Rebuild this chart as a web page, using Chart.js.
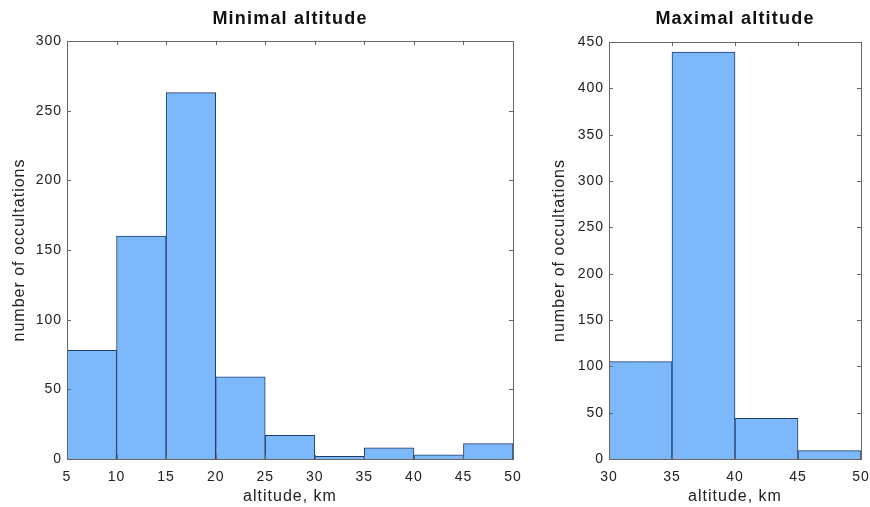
<!DOCTYPE html>
<html>
<head>
<meta charset="utf-8">
<script src="https://cdn.jsdelivr.net/npm/chart.js@4.4.0/dist/chart.umd.min.js"></script>
<style>
  body { margin: 0; background: #fff; }
  #left { position: absolute; left: 0; top: 0; width: 530px; height: 507px; }
  #right { position: absolute; left: 540px; top: 0; width: 330px; height: 507px; }
</style>
</head>
<body>
<div id="left"><canvas id="minChart"></canvas></div>
<div id="right"><canvas id="maxChart"></canvas></div>
<script>
// histogram bins (lower edge, km) and counts
var binWidth = 5;
var minBinStart = [5, 10, 15, 20, 25, 30, 35, 40, 45];
var minCounts = [78, 160, 263, 59, 17, 2, 8, 3, 11];
var maxBinStart = [30, 35, 40, 45];
var maxCounts = [105, 439, 44, 9];

var fillColor = '#7db9fa';
var edgeColor = '#1e3c6e';
var fontFamily = '"Liberation Sans", Arial, Helvetica, sans-serif';

// matlab style box, inward ticks and title
var boxPlugin = {
  id: 'box',
  beforeDraw: function(chart) {
    // the old scanned figure has loosely spaced text
    chart.ctx.letterSpacing = '1px';
  },
  afterDraw: function(chart, args, opts) {
    var ctx = chart.ctx, a = chart.chartArea;
    var xs = chart.scales.x, ys = chart.scales.y;
    ctx.save();
    ctx.strokeStyle = '#666';
    ctx.lineWidth = 1;
    ctx.strokeRect(Math.round(a.left) + 0.5, Math.round(a.top) + 0.5,
                   Math.round(a.right - a.left), Math.round(a.bottom - a.top));
    ctx.beginPath();
    xs.ticks.forEach(function(t) {
      var px = Math.round(xs.getPixelForValue(t.value)) + 0.5;
      ctx.moveTo(px, a.bottom); ctx.lineTo(px, a.bottom - 4);
      ctx.moveTo(px, a.top); ctx.lineTo(px, a.top + 4);
    });
    ys.ticks.forEach(function(t) {
      var py = Math.round(ys.getPixelForValue(t.value)) + 0.5;
      ctx.moveTo(a.left, py); ctx.lineTo(a.left + 4, py);
      ctx.moveTo(a.right, py); ctx.lineTo(a.right - 4, py);
    });
    ctx.stroke();
    ctx.fillStyle = '#111';
    ctx.letterSpacing = '1.2px';
    ctx.font = 'bold 18px ' + fontFamily;
    ctx.textAlign = 'center';
    ctx.textBaseline = 'middle';
    ctx.fillText(opts.text, (a.left + a.right) / 2, 19);
    ctx.restore();
  }
};

function makeHist(id, starts, counts, xmin, xmax, ymax, yWidth, padRight, padTop, title) {
  var pts = [];
  for (var i = 0; i < starts.length; i++) {
    pts.push({ x: starts[i] + binWidth / 2, y: counts[i] });
  }
  return new Chart(document.getElementById(id), {
    type: 'bar',
    data: {
      datasets: [{
        data: pts,
        backgroundColor: fillColor,
        borderColor: edgeColor,
        borderWidth: 1,
        barPercentage: 1,
        categoryPercentage: 1
      }]
    },
    options: {
      responsive: true,
      maintainAspectRatio: false,
      animation: false,
      layout: { padding: { top: padTop, right: padRight, left: 10, bottom: 1 } },
      plugins: {
        legend: { display: false },
        tooltip: { enabled: false },
        box: { text: title }
      },
      scales: {
        x: {
          type: 'linear',
          min: xmin,
          max: xmax,
          offset: false,
          grid: { display: false, drawTicks: false },
          border: { display: false },
          ticks: { stepSize: 5, padding: 10, color: '#222', font: { family: fontFamily, size: 14 } },
          title: { display: true, text: 'altitude, km', color: '#222', padding: 0, font: { family: fontFamily, size: 16 } },
          afterFit: function(s) { s.height = 47; s.paddingLeft = 0; s.paddingRight = 0; }
        },
        y: {
          min: 0,
          max: ymax,
          grid: { display: false, drawTicks: false },
          border: { display: false },
          ticks: { stepSize: 50, padding: 5, color: '#222', font: { family: fontFamily, size: 14 } },
          title: { display: true, text: 'number of occultations', color: '#222', padding: 0, font: { family: fontFamily, size: 16 } },
          afterFit: function(s) { s.width = yWidth; s.paddingTop = 0; s.paddingBottom = 0; }
        }
      }
    },
    plugins: [boxPlugin]
  });
}

makeHist('minChart', minBinStart, minCounts, 5, 50, 300, 57, 17, 41, 'Minimal altitude');
makeHist('maxChart', maxBinStart, maxCounts, 30, 50, 450, 59, 9, 42, 'Maximal altitude');
</script>
</body>
</html>
